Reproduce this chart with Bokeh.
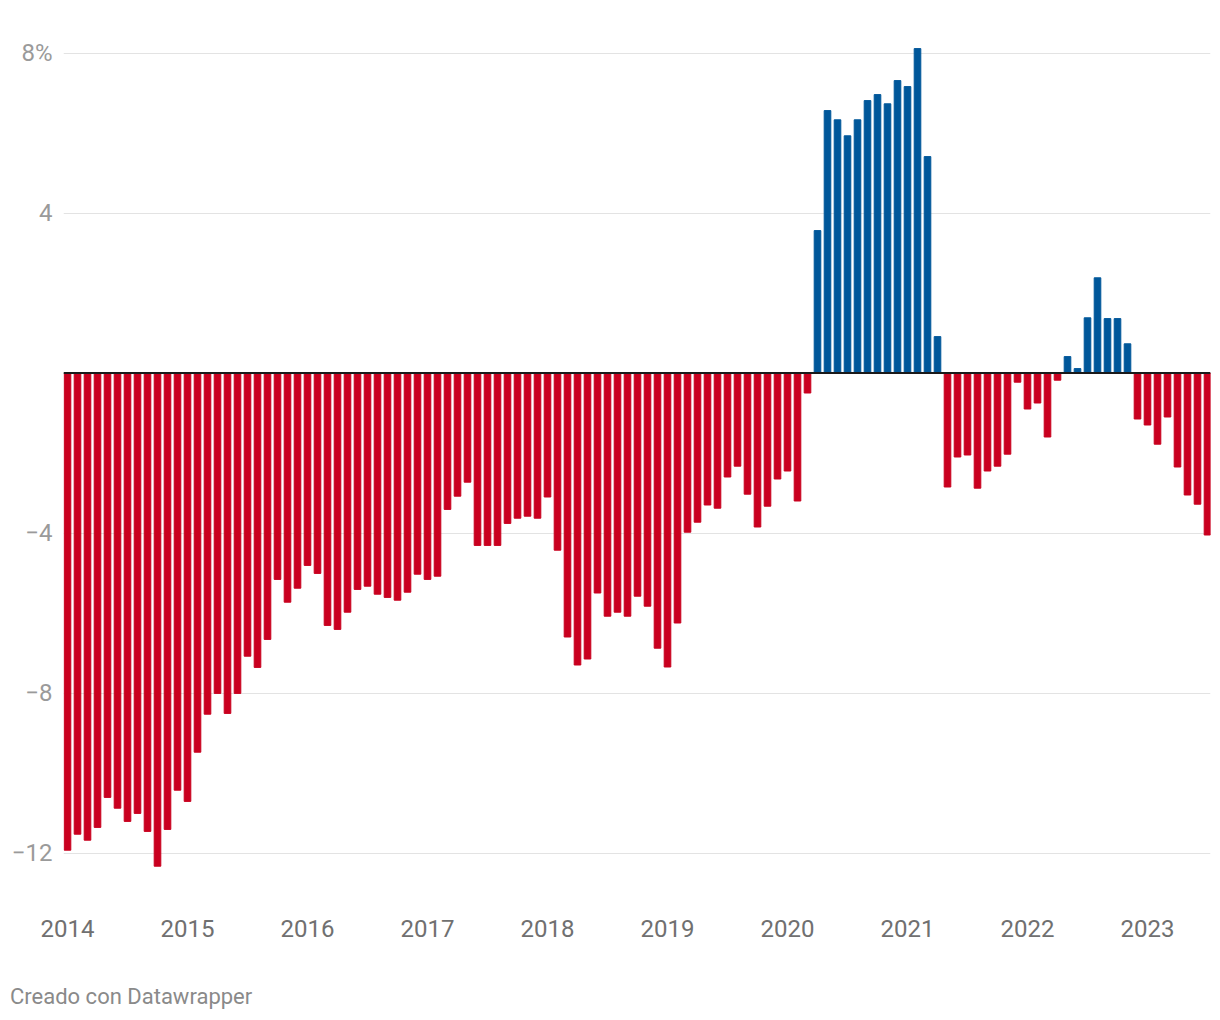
from bokeh.plotting import figure
from bokeh.models import ColumnDataSource, Span, FixedTicker, Div
from bokeh.layouts import column
from bokeh.embed import file_html
from bokeh.resources import INLINE

# ---- data (monthly, Jan 2014 .. Jul 2023), % ----
start_year = 2014
values = [
    -11.93, -11.53, -11.68, -11.36, -10.61, -10.88, -11.21, -11.01, -11.46, -12.33, -11.41, -10.43,  # 2014
    -10.71, -9.48, -8.53, -8.01, -8.51, -8.01, -7.08, -7.36, -6.66, -5.16, -5.73, -5.38,             # 2015
    -4.81, -5.01, -6.31, -6.41, -5.98, -5.41, -5.33, -5.53, -5.61, -5.68, -5.48, -5.03,              # 2016
    -5.16, -5.08, -3.41, -3.08, -2.73, -4.31, -4.31, -4.31, -3.76, -3.63, -3.58, -3.63,              # 2017
    -3.10, -4.43, -6.60, -7.30, -7.15, -5.50, -6.08, -5.98, -6.08, -5.58, -5.83, -6.88,              # 2018
    -7.35, -6.25, -3.98, -3.73, -3.30, -3.38, -2.60, -2.33, -3.03, -3.85, -3.33, -2.65,              # 2019
    -2.45, -3.20, -0.50, 3.56, 6.56, 6.33, 5.93, 6.33, 6.81, 6.96, 6.73, 7.31,                      # 2020
    7.16, 8.11, 5.41, 0.91, -2.85, -2.10, -2.05, -2.88, -2.45, -2.33, -2.03, -0.23,                 # 2021
    -0.90, -0.75, -1.60, -0.18, 0.41, 0.11, 1.38, 2.38, 1.36, 1.36, 0.73, -1.15,                    # 2022
    -1.30, -1.78, -1.10, -2.35, -3.05, -3.28, -4.05,                                                # 2023
]
year_labels = ["2014", "2015", "2016", "2017", "2018", "2019", "2020", "2021", "2022", "2023"]
y_ticks = [-12, -8, -4, 0, 4, 8]
y_tick_labels = ["\u221212", "\u22128", "\u22124", "", "4", "8%"]
footer_text = "Creado con Datawrapper"

RED = "#c9001f"
BLUE = "#00579a"

months = list(range(len(values)))
colors = [BLUE if v > 0 else RED for v in values]
source = ColumnDataSource(dict(x=months, top=values, color=colors))

p = figure(width=1218, height=984,
           x_range=(-0.4, 114.3), y_range=(-12.6875, 8.5625),
           output_backend="svg", toolbar_location=None,
           min_border_left=63, min_border_right=8,
           min_border_top=30, min_border_bottom=104)
p.outline_line_color = None
p.background_fill_color = "white"
p.border_fill_color = "white"

p.vbar(x="x", top="top", bottom=0, width=0.66, color="color", source=source)

zero = Span(location=0, dimension="width", line_color="#1a1a1a", line_width=2)
p.add_layout(zero)

# y axis
p.yaxis.ticker = FixedTicker(ticks=y_ticks)
p.yaxis.major_label_overrides = {t: l for t, l in zip(y_ticks, y_tick_labels)}
p.yaxis.axis_line_color = None
p.yaxis.major_tick_line_color = None
p.yaxis.minor_tick_line_color = None
p.yaxis.major_tick_out = 0
p.yaxis.major_label_standoff = 11
p.yaxis.major_label_text_font = "Roboto"
p.yaxis.major_label_text_font_size = "24px"
p.yaxis.major_label_text_color = "#9a9a9a"

p.ygrid.ticker = FixedTicker(ticks=[-12, -8, -4, 4, 8])
p.ygrid.grid_line_color = "#e3e3e3"
p.ygrid.grid_line_width = 1.2
p.xgrid.visible = False

# x axis
year_ticks = [12 * i for i in range(len(year_labels))]
p.xaxis.ticker = FixedTicker(ticks=year_ticks)
p.xaxis.major_label_overrides = {t: l for t, l in zip(year_ticks, year_labels)}
p.xaxis.axis_line_color = None
p.xaxis.major_tick_line_color = None
p.xaxis.minor_tick_line_color = None
p.xaxis.major_tick_out = 0
p.xaxis.major_label_standoff = 39
p.xaxis.major_label_text_font = "Roboto"
p.xaxis.major_label_text_font_size = "24px"
p.xaxis.major_label_text_color = "#707070"

footer = Div(text=footer_text, width=400, height=28, margin=(0, 0, 0, 10),
             styles={"font-family": "Roboto", "font-size": "22px",
                     "color": "#8a8a8a", "line-height": "26px"})

layout = column(p, footer, spacing=0)

open("out.html", "w").write(file_html(layout, INLINE))
